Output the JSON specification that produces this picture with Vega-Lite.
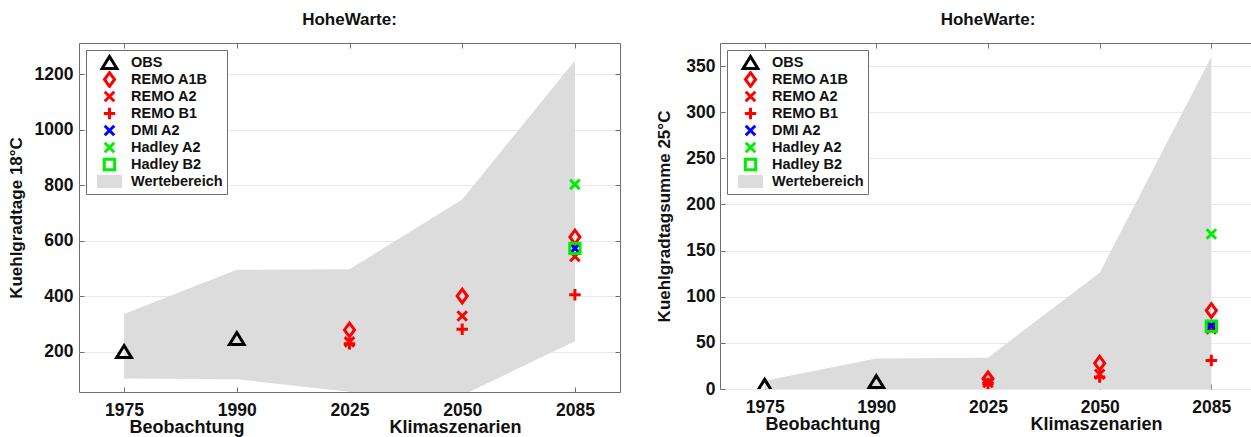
{
  "$schema": "https://vega.github.io/schema/vega-lite/v6.json",
  "background": "white",
  "padding": {"left": 6, "top": 10, "right": 0, "bottom": 0},
  "spacing": 34,
  "config": {
    "font": "Liberation Sans",
    "view": {"stroke": "#6e6e6e", "strokeWidth": 1},
    "axis": {
      "labelFont": "Liberation Sans", "labelFontSize": 17.5, "labelFontWeight": "bold", "labelColor": "#111",
      "titleFont": "Liberation Sans", "titleFontSize": 18, "titleFontWeight": "bold", "titleColor": "#111",
      "domain": false, "tickColor": "#6e6e6e", "tickSize": -5, "gridColor": "#e9e9e9", "gridWidth": 1
    },
    "axisX": {"grid": false, "labelPadding": 14, "labelAngle": 0, "titlePadding": 0, "titleAnchor": "start"},
    "axisY": {"grid": true, "labelPadding": 11, "titlePadding": 9, "titleFontSize": 17, "format": "d"},
    "legend": {
      "labelFont": "Liberation Sans", "labelFontSize": 14.5, "labelFontWeight": "bold", "labelColor": "#111",
      "symbolSize": 196, "symbolStrokeWidth": 3, "symbolOffset": 11, "labelOffset": 13, "clipHeight": 17,
      "padding": 4, "rowPadding": 0, "strokeColor": "#6e6e6e", "fillColor": "white", "offset": 7, "symbolOpacity": 1
    },
    "title": {"font": "Liberation Sans", "fontSize": 17, "fontWeight": "bold", "color": "#111", "offset": 14}
  },
  "datasets": {
    "rangeL": [
      {"year": "1975", "lo": 103, "hi": 335},
      {"year": "1990", "lo": 100, "hi": 495},
      {"year": "2025", "lo": 55, "hi": 497},
      {"year": "2050", "lo": 42, "hi": 748},
      {"year": "2085", "lo": 237, "hi": 1250}
    ],
    "ptsL": [
      {"year": "1975", "series": "OBS", "value": 200},
      {"year": "1990", "series": "OBS", "value": 247},
      {"year": "2025", "series": "REMO A1B", "value": 278},
      {"year": "2050", "series": "REMO A1B", "value": 400},
      {"year": "2085", "series": "REMO A1B", "value": 613},
      {"year": "2025", "series": "REMO A2", "value": 235},
      {"year": "2050", "series": "REMO A2", "value": 328},
      {"year": "2085", "series": "REMO A2", "value": 543},
      {"year": "2025", "series": "REMO B1", "value": 228},
      {"year": "2050", "series": "REMO B1", "value": 280},
      {"year": "2085", "series": "REMO B1", "value": 405},
      {"year": "2085", "series": "DMI A2", "value": 572},
      {"year": "2085", "series": "Hadley A2", "value": 803},
      {"year": "2085", "series": "Hadley B2", "value": 572}
    ],
    "rangeR": [
      {"year": "1975", "lo": 0, "hi": 9},
      {"year": "1990", "lo": 0, "hi": 33},
      {"year": "2025", "lo": 0, "hi": 34},
      {"year": "2050", "lo": 0, "hi": 126},
      {"year": "2085", "lo": 0, "hi": 360}
    ],
    "ptsR": [
      {"year": "1975", "series": "OBS", "value": 4},
      {"year": "1990", "series": "OBS", "value": 8},
      {"year": "2025", "series": "REMO A1B", "value": 11},
      {"year": "2050", "series": "REMO A1B", "value": 28},
      {"year": "2085", "series": "REMO A1B", "value": 85},
      {"year": "2025", "series": "REMO A2", "value": 7},
      {"year": "2050", "series": "REMO A2", "value": 16},
      {"year": "2085", "series": "REMO A2", "value": 65},
      {"year": "2025", "series": "REMO B1", "value": 6},
      {"year": "2050", "series": "REMO B1", "value": 13},
      {"year": "2085", "series": "REMO B1", "value": 31},
      {"year": "2085", "series": "DMI A2", "value": 69},
      {"year": "2085", "series": "Hadley A2", "value": 168},
      {"year": "2085", "series": "Hadley B2", "value": 68}
    ]
  },
  "resolve": {"scale": {"fill": "independent", "stroke": "independent", "shape": "independent", "x": "independent", "y": "independent"}},
  "hconcat": [
    {
      "width": 541, "height": 349,
      "title": "HoheWarte:",
      "resolve": {"axis": {"x": "independent", "y": "independent"}},
      "layer": [
        {
          "data": {"name": "rangeL"},
          "mark": {"type": "area", "color": "#dcdcdc", "opacity": 1, "clip": true},
          "encoding": {
            "x": {"field": "year", "type": "ordinal", "scale": {"type": "point", "padding": 0.4},
                  "axis": {"title": "\u200b\u00a0\u00a0\u00a0\u00a0\u00a0\u00a0\u00a0\u00a0\u00a0\u00a0Beobachtung\u00a0\u00a0\u00a0\u00a0\u00a0\u00a0\u00a0\u00a0\u00a0\u00a0\u00a0\u00a0\u00a0\u00a0\u00a0\u00a0\u00a0\u00a0\u00a0\u00a0\u00a0\u00a0\u00a0\u00a0\u00a0\u00a0\u00a0\u00a0\u00a0Klimaszenarien"}},
            "y": {"field": "hi", "type": "quantitative", "scale": {"domain": [54, 1313], "nice": false, "zero": false},
                  "axis": {"values": [200, 400, 600, 800, 1000, 1200], "title": "Kuehlgradtage 18°C"}},
            "y2": {"field": "lo"}
          }
        },
        {
          "data": {"name": "ptsL"},
          "mark": {"type": "point", "filled": true, "strokeWidth": 3, "size": 196, "opacity": 1, "clip": true},
          "encoding": {
            "x": {"field": "year", "type": "ordinal", "axis": {"orient": "top", "labels": false, "title": null, "grid": false}},
            "y": {"field": "value", "type": "quantitative", "axis": {"orient": "right", "labels": false, "title": null, "grid": false, "values": [200, 400, 600, 800, 1000, 1200]}},
            "shape": {"field": "series", "type": "nominal",
              "scale": {"domain": ["OBS", "REMO A1B", "REMO A2", "REMO B1", "DMI A2", "Hadley A2", "Hadley B2", "Wertebereich"],
                        "range": ["M0,-0.85L1.05,0.85L-1.05,0.85Z", "M0,-0.98L0.72,0L0,0.98L-0.72,0Z", "M-0.68,-0.68L0.68,0.68M-0.68,0.68L0.68,-0.68", "M-0.82,0H0.82M0,-0.82V0.82", "M-0.68,-0.68L0.68,0.68M-0.68,0.68L0.68,-0.68", "M-0.68,-0.68L0.68,0.68M-0.68,0.68L0.68,-0.68", "M-0.74,-0.74H0.74V0.74H-0.74Z", "M-1.57,-0.71H1.57V0.71H-1.57Z"]},
              "legend": {"orient": "top-left", "title": null}},
            "stroke": {"field": "series", "type": "nominal",
              "scale": {"domain": ["OBS", "REMO A1B", "REMO A2", "REMO B1", "DMI A2", "Hadley A2", "Hadley B2", "Wertebereich"],
                        "range": ["#000000", "#ff0000", "#ff0000", "#ff0000", "#0000ff", "#00ee00", "#00ee00", "#dcdcdc"]},
              "legend": {"orient": "top-left", "title": null}},
            "fill": {"field": "series", "type": "nominal",
              "scale": {"domain": ["OBS", "REMO A1B", "REMO A2", "REMO B1", "DMI A2", "Hadley A2", "Hadley B2", "Wertebereich"],
                        "range": ["transparent", "transparent", "transparent", "transparent", "transparent", "transparent", "transparent", "#dcdcdc"]},
              "legend": {"orient": "top-left", "title": null}}
          }
        }
      ]
    },
    {
      "width": 536, "height": 346,
      "title": "HoheWarte:",
      "resolve": {"axis": {"x": "independent", "y": "independent"}},
      "layer": [
        {
          "data": {"name": "rangeR"},
          "mark": {"type": "area", "color": "#dcdcdc", "opacity": 1, "clip": true},
          "encoding": {
            "x": {"field": "year", "type": "ordinal", "scale": {"type": "point", "padding": 0.4},
                  "axis": {"title": "\u200b\u00a0\u00a0\u00a0\u00a0\u00a0\u00a0\u00a0\u00a0\u00a0Beobachtung\u00a0\u00a0\u00a0\u00a0\u00a0\u00a0\u00a0\u00a0\u00a0\u00a0\u00a0\u00a0\u00a0\u00a0\u00a0\u00a0\u00a0\u00a0\u00a0\u00a0\u00a0\u00a0\u00a0\u00a0\u00a0\u00a0\u00a0\u00a0\u00a0\u00a0Klimaszenarien"}},
            "y": {"field": "hi", "type": "quantitative", "scale": {"domain": [0, 375], "nice": false, "zero": false},
                  "axis": {"values": [0, 50, 100, 150, 200, 250, 300, 350], "title": "Kuehlgradtagsumme 25°C", "labelPadding": 10, "titlePadding": 12}},
            "y2": {"field": "lo"}
          }
        },
        {
          "data": {"name": "ptsR"},
          "mark": {"type": "point", "filled": true, "strokeWidth": 3, "size": 196, "opacity": 1, "clip": true},
          "encoding": {
            "x": {"field": "year", "type": "ordinal", "axis": {"orient": "top", "labels": false, "title": null, "grid": false}},
            "y": {"field": "value", "type": "quantitative", "axis": {"orient": "right", "labels": false, "title": null, "grid": false, "values": [0, 50, 100, 150, 200, 250, 300, 350]}},
            "shape": {"field": "series", "type": "nominal",
              "scale": {"domain": ["OBS", "REMO A1B", "REMO A2", "REMO B1", "DMI A2", "Hadley A2", "Hadley B2", "Wertebereich"],
                        "range": ["M0,-0.85L1.05,0.85L-1.05,0.85Z", "M0,-0.98L0.72,0L0,0.98L-0.72,0Z", "M-0.68,-0.68L0.68,0.68M-0.68,0.68L0.68,-0.68", "M-0.82,0H0.82M0,-0.82V0.82", "M-0.68,-0.68L0.68,0.68M-0.68,0.68L0.68,-0.68", "M-0.68,-0.68L0.68,0.68M-0.68,0.68L0.68,-0.68", "M-0.74,-0.74H0.74V0.74H-0.74Z", "M-1.57,-0.71H1.57V0.71H-1.57Z"]},
              "legend": {"orient": "top-left", "title": null}},
            "stroke": {"field": "series", "type": "nominal",
              "scale": {"domain": ["OBS", "REMO A1B", "REMO A2", "REMO B1", "DMI A2", "Hadley A2", "Hadley B2", "Wertebereich"],
                        "range": ["#000000", "#ff0000", "#ff0000", "#ff0000", "#0000ff", "#00ee00", "#00ee00", "#dcdcdc"]},
              "legend": {"orient": "top-left", "title": null}},
            "fill": {"field": "series", "type": "nominal",
              "scale": {"domain": ["OBS", "REMO A1B", "REMO A2", "REMO B1", "DMI A2", "Hadley A2", "Hadley B2", "Wertebereich"],
                        "range": ["transparent", "transparent", "transparent", "transparent", "transparent", "transparent", "transparent", "#dcdcdc"]},
              "legend": {"orient": "top-left", "title": null}}
          }
        }
      ]
    }
  ]
}
